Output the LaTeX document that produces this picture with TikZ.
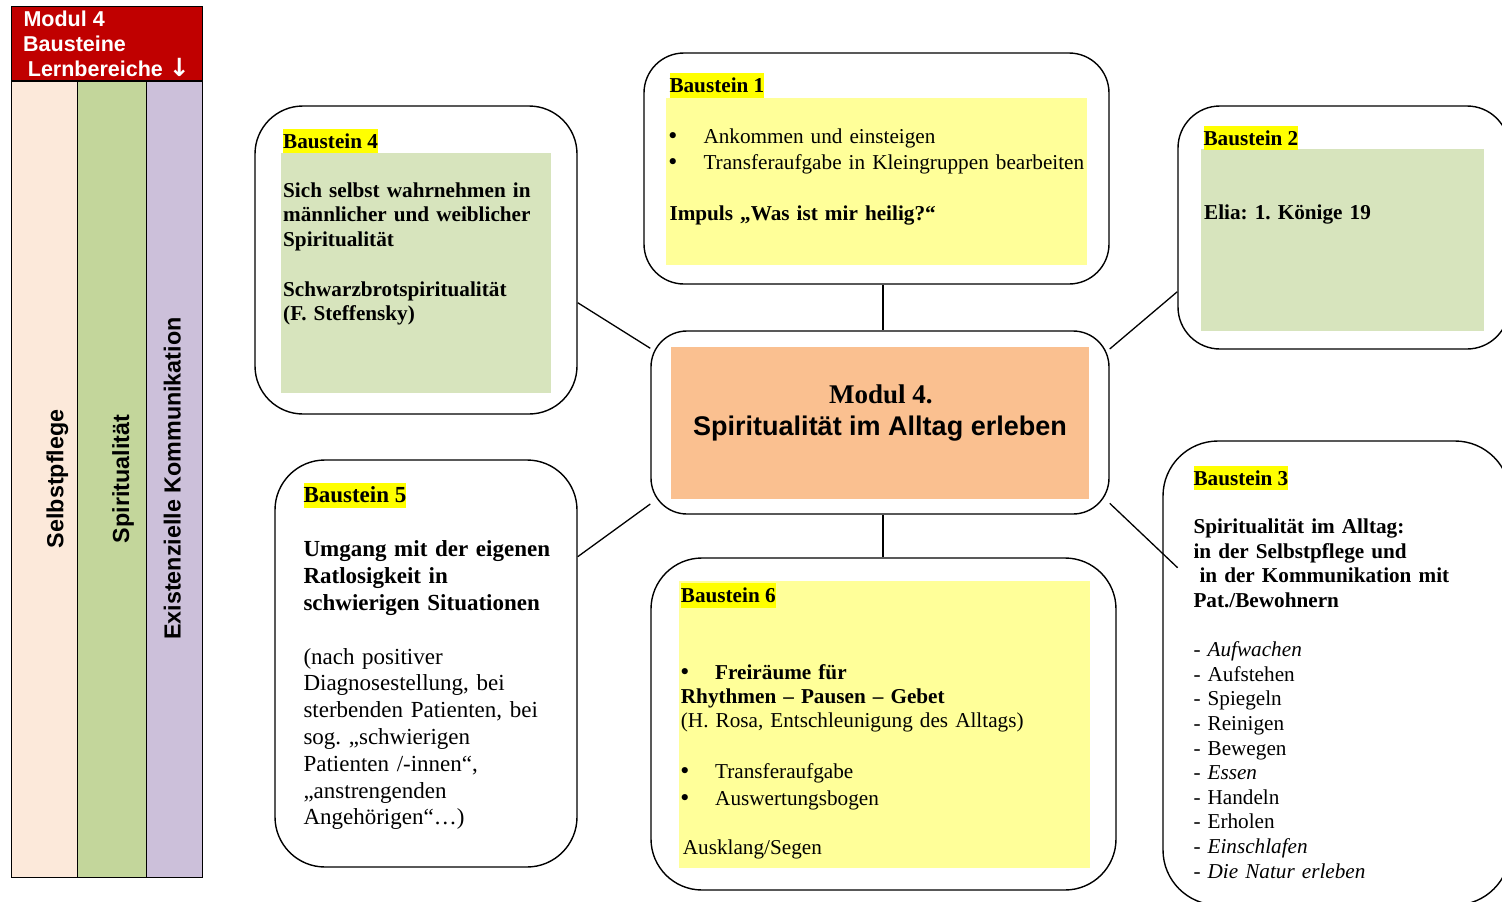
\documentclass[tikz,border=0pt]{standalone}
\usepackage{fontspec}
\setmainfont{Liberation Serif}
\setsansfont{Liberation Sans}
\newfontfamily\symbolfont{DejaVu Sans}
\usetikzlibrary{calc}
\definecolor{headred}{HTML}{C00000}
\definecolor{selfpeach}{HTML}{FCE9DA}
\definecolor{spirgreen}{HTML}{C3D69B}
\definecolor{komlila}{HTML}{CCC0DA}
\definecolor{palegreen}{HTML}{D7E4BD}
\definecolor{paleyellow}{HTML}{FFFF99}
\definecolor{hlyellow}{HTML}{FFFF00}
\definecolor{centerorange}{HTML}{FAC090}
\newcommand{\bul}{{\symbolfont •}}
\frenchspacing
\begin{document}
\begin{tikzpicture}[x=1pt,y=-1pt,
  bubble/.style={draw=black, line width=1.4pt, fill=white, rounded corners=#1,
    inner sep=0pt, rectangle},
  link/.style={draw=black, line width=1.3pt},
  body/.style={anchor=base west, inner sep=0pt, text width=430pt, align=left,
    font=\fontsize{21.2}{24.7}\selectfont},
  lbl/.style={anchor=base west, inner sep=0pt, fill=hlyellow, text height=19.5pt,
    text depth=5pt, font=\fontsize{21.2}{24.7}\selectfont\bfseries},
  colhead/.style={anchor=base west, inner sep=0pt, text=white,
    font=\fontsize{21.5}{24}\selectfont\sffamily\bfseries},
  area/.style={anchor=base west, inner sep=0pt, rotate=90,
    font=\fontsize{23.3}{26}\selectfont\sffamily\bfseries},
]
\useasboundingbox (0,0) rectangle (1502,902);
\clip (0,0) rectangle (1502,902);

% ---- left table: module header and learning areas ----
\fill[selfpeach] (11.7,81) rectangle (77.3,877.7);
\fill[spirgreen] (77.3,81) rectangle (146.7,877.7);
\fill[komlila] (146.7,81) rectangle (202.3,877.7);
\fill[headred] (11.7,6.5) rectangle (202.3,81);
\draw[line width=1.2pt] (77.3,81) -- (77.3,877.7);
\draw[line width=1.2pt] (146.7,81) -- (146.7,877.7);
\draw[line width=1.5pt] (11.7,81) -- (202.3,81);
\draw[line width=1.5pt] (11.7,6.5) rectangle (202.3,877.7);

\node[colhead] (h1) at (23.3,26.7) {Modul 4};
\node[colhead] (h2) at (23.0,51.7) {Bausteine};
\node[colhead] (h3) at (27.7,76.0) {Lernbereiche {\symbolfont\bfseries\fontsize{25}{25}\selectfont ↓}};

\node[area] (a1) at (63.3,548.3) {Selbstpflege};
\node[area] (a2) at (129.0,543.3) {Spiritualität};
\node[area] (a3) at (180.7,640.0) {Existenzielle Kommunikation};

% ---- bubbles ----
\node[bubble=48, minimum width=322, minimum height=308] (b4) at (416,260) {};
\node[bubble=40, minimum width=465, minimum height=231] (b1) at (876.5,168.5) {};
\node[bubble=42, minimum width=331, minimum height=243] (b2) at (1343.5,227.5) {};
\node[bubble=36, minimum width=458, minimum height=183] (mid) at (880,422.5) {};
\node[bubble=50, minimum width=302, minimum height=407] (b5) at (426,663.5) {};
\node[bubble=51, minimum width=465, minimum height=332] (b6) at (883.5,724) {};
\node[bubble=55, minimum width=347, minimum height=464] (b3) at (1336.5,673) {};

% ---- connectors ----
\coordinate (vx) at (883,0);
\draw[link] (b1.south -| vx) -- (mid.north -| vx);
\draw[link] (mid.south -| vx) -- (b6.north -| vx);
\draw[link] ($(b4.east)+(0,42.7)$) -- ($(mid.west)+(0,-74.2)$);
\draw[link] ($(b5.east)+(0,-106.8)$) -- ($(mid.west)+(0,81.5)$);
\draw[link] ($(b2.west)+(0,64.2)$) -- ($(mid.east)+(0,-73.5)$);
\coordinate (b3in) at ($(b3.west)+(15.3,-105.3)$);
\draw[link] ($(mid.east)+(0,80.8)$) -- (b3in);

% ---- panel fills ----
\fill[palegreen] (281,152.7) rectangle (551,392.7);
\fill[paleyellow] (666,97.7) rectangle (1087.3,265);
\fill[palegreen] (1201,149) rectangle (1484,330.7);
\fill[centerorange] (671,346.7) rectangle (1089,499);
\fill[paleyellow] (679,581) rectangle (1090,868);

% ---- Baustein 4 ----
\node[lbl] (l4) at (283,148) {Baustein 4\hspace{1pt}};
\node[body, font=\fontsize{21.2}{24.7}\selectfont\bfseries] (t4a) at (283,197)
  {Sich selbst wahrnehmen in\\männlicher und weiblicher\\Spiritualität};
\node[body, font=\fontsize{21.2}{24.7}\selectfont\bfseries] (t4b) at (283,296)
  {Schwarzbrotspiritualität\\(F. Steffensky)};

% ---- Baustein 1 ----
\node[lbl] (l1) at (669.3,92.7) {Baustein 1\hspace{8pt}};
\node[body, text width=30pt, font=\fontsize{21.2}{25.7}\selectfont] (t1d) at (666.5,143.3)
  {\bul\\\bul};
\node[body, font=\fontsize{21.2}{25.7}\selectfont] (t1a) at (703.3,143.3)
  {Ankommen und einsteigen\\Transferaufgabe in Kleingruppen bearbeiten};
\node[body, font=\fontsize{21.2}{24.7}\selectfont\bfseries] (t1b) at (669.3,220.7)
  {Impuls „Was ist mir heilig?“};

% ---- Baustein 2 ----
\node[lbl] (l2) at (1203.3,145) {Baustein 2\hspace{1pt}};
\node[body, font=\fontsize{21.2}{24.7}\selectfont\bfseries] (t2) at (1204,219.3)
  {Elia: 1. Könige 19};

% ---- centre ----
\node[anchor=base, inner sep=0pt, font=\fontsize{27}{30}\selectfont\bfseries] (m1)
  at (880.8,403.3) {Modul 4.};
\node[anchor=base, inner sep=0pt, font=\fontsize{27}{30}\selectfont\sffamily\bfseries] (m2)
  at (880,435) {Spiritualität im Alltag erleben};

% ---- Baustein 5 ----
\node[lbl, font=\fontsize{23}{26.8}\selectfont\bfseries] (l5) at (303.3,502.7) {Baustein 5\hspace{1pt}};
\node[body, font=\fontsize{23}{27}\selectfont\bfseries] (t5a) at (303.3,556.7)
  {Umgang mit der eigenen\\Ratlosigkeit in\\schwierigen Situationen};
\node[body, font=\fontsize{23}{26.8}\selectfont] (t5b) at (303.3,664)
  {(nach positiver\\Diagnosestellung, bei\\sterbenden Patienten, bei\\sog. „schwierigen\\Patienten /-innen“,\\„anstrengenden\\Angehörigen“…)};

% ---- Baustein 6 ----
\node[lbl] (l6) at (680.7,602.7) {Baustein 6\hspace{9.5pt}};
\node[body, text width=30pt] (t6d1) at (678.5,679) {\bul};
\node[body, font=\fontsize{21.2}{24.7}\selectfont\bfseries] (t6a) at (715,679) {Freiräume für};
\node[body, font=\fontsize{21.2}{24.4}\selectfont\bfseries] (t6b) at (680.7,703.3)
  {Rhythmen – Pausen – Gebet};
\node[body] (t6c) at (680.7,727.7) {(H. Rosa, Entschleunigung des Alltags)};
\node[body, text width=30pt, font=\fontsize{21.2}{27.4}\selectfont] (t6d2) at (678.5,778.3) {\bul\\\bul};
\node[body, font=\fontsize{21.2}{27.4}\selectfont] (t6e) at (715,778.3)
  {Transferaufgabe\\Auswertungsbogen};
\node[body] (t6f) at (682.7,854.3) {Ausklang/Segen};

% ---- Baustein 3 ----
\node[lbl] (l3) at (1193.3,485) {Baustein 3\hspace{1pt}};
\node[body, font=\fontsize{21.2}{24.5}\selectfont\bfseries] (t3a) at (1193.3,533.7)
  {Spiritualität im Alltag:\\in der Selbstpflege und\\\hspace*{6pt}in der Kommunikation mit\\Pat./Bewohnern};
\node[body, font=\fontsize{21.2}{24.6}\selectfont] (t3b) at (1193.3,656.7)
  {- \textit{Aufwachen}\\- Aufstehen\\- Spiegeln\\- Reinigen\\- Bewegen\\- \textit{Essen}\\- Handeln\\- Erholen\\- \textit{Einschlafen}\\- \textit{Die Natur erleben}};
\end{tikzpicture}
\end{document}
